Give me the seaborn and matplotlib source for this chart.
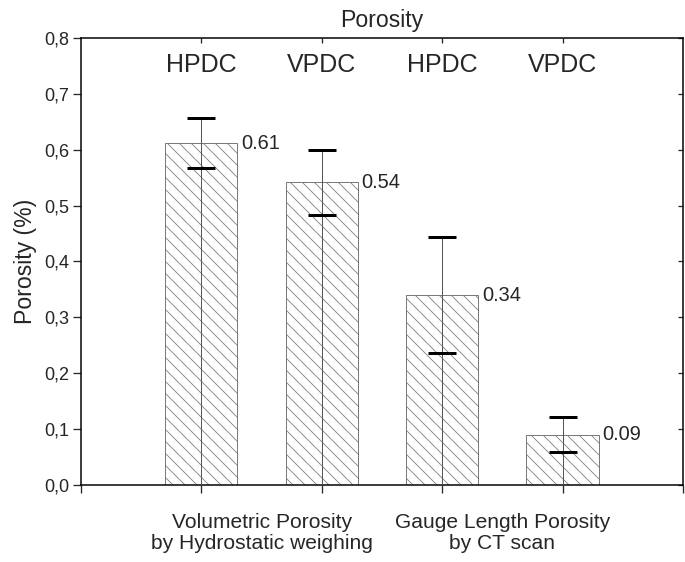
import matplotlib
matplotlib.use("Agg")
import matplotlib.pyplot as plt
import matplotlib.transforms as mtransforms
from matplotlib.ticker import FuncFormatter, MultipleLocator
import seaborn as sns
import pandas as pd
import numpy as np

# data
positions = [1, 2, 3, 4]
processes = ["HPDC", "VPDC", "HPDC", "VPDC"]
porosity = [0.612, 0.542, 0.340, 0.090]
porosity_err = [0.045, 0.058, 0.104, 0.031]
value_labels = ["0.61", "0.54", "0.34", "0.09"]
group_positions = [1.5, 3.5]
group_labels = ["Volumetric Porosity\nby Hydrostatic weighing", "Gauge Length Porosity\nby CT scan"]

sns.set_style("white")
plt.rcParams["font.family"] = ["Liberation Sans", "DejaVu Sans"]
plt.rcParams["hatch.color"] = "#6e6e6e"
plt.rcParams["hatch.linewidth"] = 0.8

df = pd.DataFrame({"pos": positions, "porosity": porosity, "process": processes})

# dpi 72 so 1 pt = 1 px
fig = plt.figure(figsize=(685 / 72, 562 / 72), dpi=72)
ax = fig.add_axes([0.1182, 0.137, 0.997 - 0.1182, 0.9324 - 0.137])

sns.barplot(data=df, x="pos", y="porosity", native_scale=True, width=0.6,
            errorbar=None, color="white", edgecolor="#7a7a7a", linewidth=1.0,
            ax=ax)
for p in ax.patches:
    p.set_facecolor("white")
    p.set_hatch("\\\\")

vals = np.array(porosity)
errs = np.array(porosity_err)
# thin line through the bar up to the upper cap
ax.vlines(positions, 0, vals + errs, color="#555555", lw=1.0, zorder=3)
ax.errorbar(positions, vals, yerr=errs, fmt="none", ecolor="black",
            elinewidth=0, capsize=14, capthick=3, zorder=4)

for x, v, lab in zip(positions, porosity, value_labels):
    ax.text(x + 0.33, v, lab, ha="left", va="center", fontsize=20)

blend = mtransforms.blended_transform_factory(ax.transData, ax.transAxes)
for x, lab in zip(positions, processes):
    ax.text(x, 0.9396, lab, ha="center", va="center", fontsize=25, transform=blend)

for x, lab in zip(group_positions, group_labels):
    ax.text(x, -0.062, lab, ha="center", va="top", fontsize=21, linespacing=1.12,
            transform=blend)

ax.set_xlim(0, 5)
ax.set_ylim(0, 0.8)
ax.xaxis.set_major_locator(MultipleLocator(1))
ax.yaxis.set_major_locator(MultipleLocator(0.1))
ax.yaxis.set_major_formatter(FuncFormatter(lambda y, _: f"{y:.1f}".replace(".", ",")))
ax.set_xticklabels([])
ax.set_xlabel("")
ax.set_ylabel("Porosity (%)", fontsize=23, labelpad=7)
ax.set_title("Porosity", fontsize=23, pad=11)
ax.tick_params(axis="both", direction="out", length=8, width=1.3, labelsize=18,
               bottom=True, left=True, top=False, right=False)

for s in ax.spines.values():
    s.set_visible(True)
    s.set_color("black")
    s.set_linewidth(1.5)

top = ax.secondary_xaxis("top")
top.set_xticks(positions)
top.tick_params(direction="in", length=5, width=1.3, labeltop=False)
top.spines["top"].set_visible(False)
right = ax.secondary_yaxis("right")
right.yaxis.set_major_locator(MultipleLocator(0.1))
right.tick_params(direction="in", length=5, width=1.3, labelright=False)
right.spines["right"].set_visible(False)

fig.savefig("out.png", dpi=72)
